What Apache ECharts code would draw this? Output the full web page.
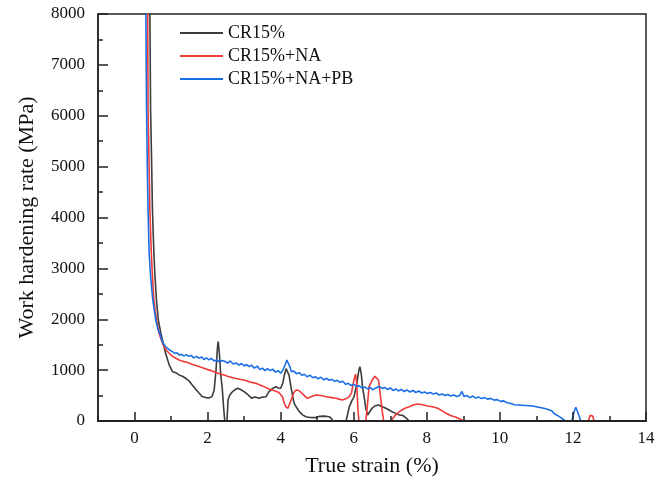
<!DOCTYPE html>
<html>
<head>
<meta charset="utf-8">
<script src="https://cdn.jsdelivr.net/npm/echarts@6/dist/echarts.min.js"></script>
<style>html,body{margin:0;padding:0;background:#fff}#c{width:663px;height:483px}</style>
</head>
<body>
<div id="c"></div>
<script>
const seriesNames = ['CR15%', 'CR15%+NA', 'CR15%+NA+PB'];
const xTickLabels = [0, 2, 4, 6, 8, 10, 12, 14];
const xMinorTicks = [-1, 1, 3, 5, 7, 9, 11, 13];

const blackStrain = [0.40,0.42,0.44,0.47,0.49,0.53,0.56,0.60,0.65,0.72,0.85,0.95,1.04,1.13,1.22,1.31,1.40,1.49,1.58,1.68,1.77,1.85,1.95,2.05,2.12,2.18,2.23,2.27,2.29,2.32,2.36,2.40,2.44,2.47,2.53,2.56,2.60,2.66,2.74,2.82,2.90,3.00,3.10,3.20,3.30,3.41,3.50,3.60,3.68,3.78,3.87,3.94,4.00,4.06,4.10,4.15,4.19,4.23,4.28,4.33,4.37,4.45,4.51,4.60,4.69,4.80,4.96,5.05,5.10,5.20,5.33,5.40,5.42,5.79,5.88,5.95,6.01,6.06,6.10,6.14,6.17,6.21,6.24,6.30,6.33,6.38,6.42,6.50,6.58,6.68,6.78,6.88,6.97,7.05,7.15,7.25,7.34,7.43,7.52];
const blackRate   = [9500,8000,6100,5000,4150,3300,2840,2380,1990,1726,1330,1100,970,950,905,880,840,790,708,620,545,480,460,455,480,610,1000,1450,1560,1350,900,650,250,0,0,413,500,560,610,643,620,577,520,450,470,446,470,478,577,640,675,650,643,750,900,1030,1069,900,675,480,348,250,183,120,85,70,66,90,98,95,85,40,0,0,282,400,478,650,807,1000,1069,900,675,400,250,118,151,250,300,315,280,250,216,180,150,118,110,60,0];

const redStrain = [0.34,0.36,0.37,0.40,0.42,0.46,0.49,0.53,0.60,0.67,0.74,0.81,0.88,0.95,1.04,1.13,1.22,1.30,1.36,1.45,1.55,1.63,1.72,1.80,1.90,2.00,2.10,2.18,2.28,2.36,2.45,2.55,2.64,2.73,2.82,2.91,3.00,3.14,3.32,3.50,3.68,3.85,3.95,4.05,4.10,4.14,4.20,4.25,4.30,4.36,4.42,4.50,4.55,4.65,4.73,4.85,4.96,5.10,5.24,5.40,5.51,5.60,5.69,5.80,5.88,5.94,5.97,6.01,6.05,6.08,6.11,6.14,6.33,6.38,6.42,6.50,6.58,6.63,6.68,6.73,6.78,6.82,7.02,7.12,7.25,7.40,7.52,7.65,7.75,7.88,8.02,8.15,8.30,8.42,8.53,8.65,8.80,8.92,9.03,12.42,12.47,12.50,12.54,12.58];
const redRate   = [9500,8000,6100,5000,4150,3300,2840,2380,1990,1726,1580,1462,1380,1332,1270,1233,1200,1180,1167,1150,1120,1102,1080,1060,1036,1010,990,970,940,925,905,880,860,840,830,815,807,770,740,690,630,590,560,478,350,282,250,280,440,560,610,600,577,500,446,480,512,500,478,460,446,430,413,440,478,560,675,820,920,760,300,0,0,350,675,800,880,905,800,500,200,0,0,100,183,250,282,320,335,320,295,280,250,200,151,110,72,35,0,0,110,140,100,0];

const blueStrain = [0.29,0.31,0.33,0.35,0.37,0.40,0.44,0.50,0.58,0.64,0.69,0.76,0.83,0.90,0.97,1.04,1.10,1.16,1.22,1.28,1.35,1.42,1.49,1.55,1.62,1.70,1.77,1.84,1.90,1.97,2.04,2.10,2.18,2.25,2.32,2.40,2.48,2.55,2.62,2.70,2.78,2.86,2.93,3.00,3.07,3.14,3.20,3.28,3.36,3.43,3.50,3.57,3.64,3.71,3.78,3.86,3.93,4.00,4.06,4.12,4.17,4.21,4.25,4.29,4.36,4.43,4.51,4.58,4.65,4.72,4.80,4.88,4.95,5.02,5.10,5.18,5.26,5.33,5.40,5.48,5.55,5.62,5.70,5.78,5.85,5.92,6.00,6.08,6.15,6.22,6.30,6.38,6.45,6.52,6.60,6.70,6.78,6.85,6.92,7.00,7.08,7.15,7.22,7.30,7.38,7.46,7.54,7.62,7.70,7.78,7.86,7.94,8.02,8.10,8.18,8.26,8.34,8.42,8.50,8.58,8.66,8.74,8.82,8.90,8.96,9.02,9.10,9.18,9.26,9.34,9.42,9.50,9.58,9.66,9.75,9.84,9.93,10.02,10.10,10.20,10.30,10.40,10.50,10.60,10.70,10.80,10.90,11.00,11.10,11.20,11.30,11.36,11.42,11.48,11.52,11.55,11.62,11.68,11.73,11.78,11.82,11.97,12.03,12.08,12.12,12.17,12.21];
const blueRate   = [9500,8000,6100,5000,4150,3300,2840,2380,1990,1800,1726,1561,1480,1430,1390,1364,1330,1340,1300,1310,1280,1300,1270,1290,1240,1270,1230,1260,1210,1240,1200,1230,1180,1200,1160,1190,1170,1140,1180,1120,1140,1100,1130,1080,1110,1069,1100,1040,1080,1010,1040,990,1030,990,1020,960,990,938,1000,1100,1200,1210,1070,970,980,930,950,900,920,870,900,850,870,830,860,810,840,800,820,780,800,760,780,720,740,700,720,680,690,650,670,630,660,610,650,680,640,660,620,650,600,630,590,620,580,610,570,600,560,590,550,570,540,560,530,550,510,530,500,520,490,510,480,500,580,480,500,460,490,450,470,440,460,430,445,410,420,385,395,360,345,320,315,310,305,300,295,280,265,250,230,216,200,150,170,118,90,60,53,10,0,0,180,269,250,100,0];

const colors = ['#3c3c3c', '#f03a3a', '#1a6ee6'];
const FONT = 'Liberation Serif';

function pairs(xs, ys) { return xs.map((x, i) => [x, ys[i]]); }
const seriesData = [pairs(blackStrain, blackRate), pairs(redStrain, redRate), pairs(blueStrain, blueRate)];

const chart = echarts.init(document.getElementById('c'), null, {renderer: 'canvas'});
chart.setOption({
  animation: false,
  backgroundColor: '#fff',
  grid: {left: 98, right: 17, top: 14, bottom: 62, show: true, borderColor: '#222', borderWidth: 1.5, backgroundColor: 'transparent'},
  legend: {
    orient: 'vertical', left: 180, top: 24, padding: 0, itemWidth: 43, itemHeight: 2, itemGap: 5,
    icon: 'rect',
    textStyle: {fontFamily: FONT, fontSize: 18, color: '#111', lineHeight: 18},
    data: seriesNames
  },
  xAxis: [{
    type: 'value', min: -1, max: 14, interval: 1, z: 5,
    axisLine: {show: true, onZero: false, lineStyle: {color: '#222', width: 2}},
    axisTick: {show: true, inside: true, length: 9, customValues: xTickLabels, lineStyle: {color: '#222', width: 1.5}},
    axisLabel: {customValues: xTickLabels, fontFamily: FONT, fontSize: 17, color: '#111', margin: 9},
    splitLine: {show: false},
    name: 'True strain (%)', nameLocation: 'middle', nameGap: 34,
    nameTextStyle: {fontFamily: FONT, fontSize: 22, color: '#111'}
  }, {
    type: 'value', min: -1, max: 14, interval: 1, position: 'bottom', gridIndex: 0, z: 5,
    axisLine: {show: false, onZero: false},
    axisTick: {show: true, inside: true, length: 5, customValues: xMinorTicks, lineStyle: {color: '#222', width: 1.5}},
    axisLabel: {show: false},
    splitLine: {show: false}
  }],
  yAxis: {
    type: 'value', min: 0, max: 8000, interval: 1000,
    axisLine: {show: true, onZero: false, lineStyle: {color: '#222', width: 1.5}},
    axisTick: {show: true, inside: true, length: 10, lineStyle: {color: '#222', width: 1.5}},
    minorTick: {show: true, splitNumber: 2, length: 5, lineStyle: {color: '#222', width: 1.5}},
    axisLabel: {fontFamily: FONT, fontSize: 17, color: '#111', margin: 13, formatter: v => String(v)},
    splitLine: {show: false},
    name: 'Work hardening rate (MPa)', nameLocation: 'middle', nameGap: 60,
    nameTextStyle: {fontFamily: FONT, fontSize: 22, color: '#111'}
  },
  series: seriesNames.map((n, i) => ({
    name: n, type: 'line', data: seriesData[i], symbol: 'none', smooth: false,
    clip: true, xAxisIndex: 0,
    lineStyle: {color: colors[i], width: 1.6}, itemStyle: {color: colors[i]}
  }))
});
</script>
</body>
</html>
